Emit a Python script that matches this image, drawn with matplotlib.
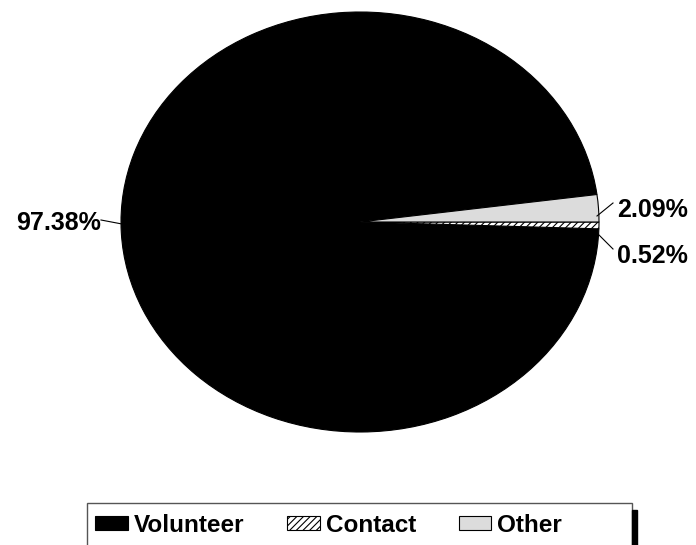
import numpy as np
import matplotlib.pyplot as plt
from matplotlib.patches import Rectangle

plt.rcParams['font.family'] = ['Liberation Sans', 'DejaVu Sans']
plt.rcParams['hatch.linewidth'] = 0.8

# data
categories = ["Volunteer", "Contact", "Other"]
shares = [97.38, 0.52, 2.09]
labels = ["97.38%", "0.52%", "2.09%"]
colors = ["black", "white", "#dcdcdc"]
hatches = [None, "/////", None]

W, H = 696, 545
fig = plt.figure(figsize=(W / 100, H / 100), dpi=100)
ax = fig.add_axes([0, 0, 1, 1])

start = shares[2] * 3.6
wedges, _ = ax.pie(shares, colors=colors, startangle=start, counterclock=True,
                   wedgeprops=dict(edgecolor="black", linewidth=0.8))
for w, h in zip(wedges, hatches):
    if h:
        w.set_hatch(h)

# ellipse look: pixel center (360, 222), radii 239 x 210
cx, cy, rx, ry = 360, 222, 239, 210
ax.set_aspect('auto')
ax.set_xlim(-cx / rx, (W - cx) / rx)
ax.set_ylim(-(H - cy) / ry, cy / ry)
ax.axis('off')

# labels with leader lines (positions in pixel offsets from the pie)
def px(x, y):
    return ((x - cx) / rx, (cy - y) / ry)

label_spec = [
    # text xy, line start, line end, ha
    ((101, 223), (101, 220), (122, 224), 'right'),
    ((617, 256), (613, 249), (597, 233), 'left'),
    ((617, 210), (613, 203), (597, 216), 'left'),
]
for lab, (txy, l0, l1, ha) in zip(labels, label_spec):
    ax.plot(*zip(px(*l0), px(*l1)), color="black", lw=0.8)
    ax.text(*px(*txy), lab, ha=ha, va='center', fontsize=18, fontweight='bold')

# legend box with a dark shadow on the right
fig.patches.append(Rectangle((87 / W, -0.05), (632 - 87) / W, 0.05 + 1 - 503 / H,
                             transform=fig.transFigure, facecolor='white',
                             edgecolor='#555555', linewidth=1.0))
fig.patches.append(Rectangle((632 / W, 0), 5 / W, 1 - 510 / H,
                             transform=fig.transFigure, color='black'))
leg = fig.legend(wedges, categories, loc='upper left',
                 bbox_to_anchor=(84 / W, 1 - 503 / H), ncol=3,
                 prop=dict(size=17.5, weight='bold'), frameon=False,
                 handlelength=1.35, handleheight=0.5,
                 handletextpad=0.25, columnspacing=1.75, borderpad=0.45,
                 borderaxespad=0)

fig.savefig("out.png", dpi=100)
